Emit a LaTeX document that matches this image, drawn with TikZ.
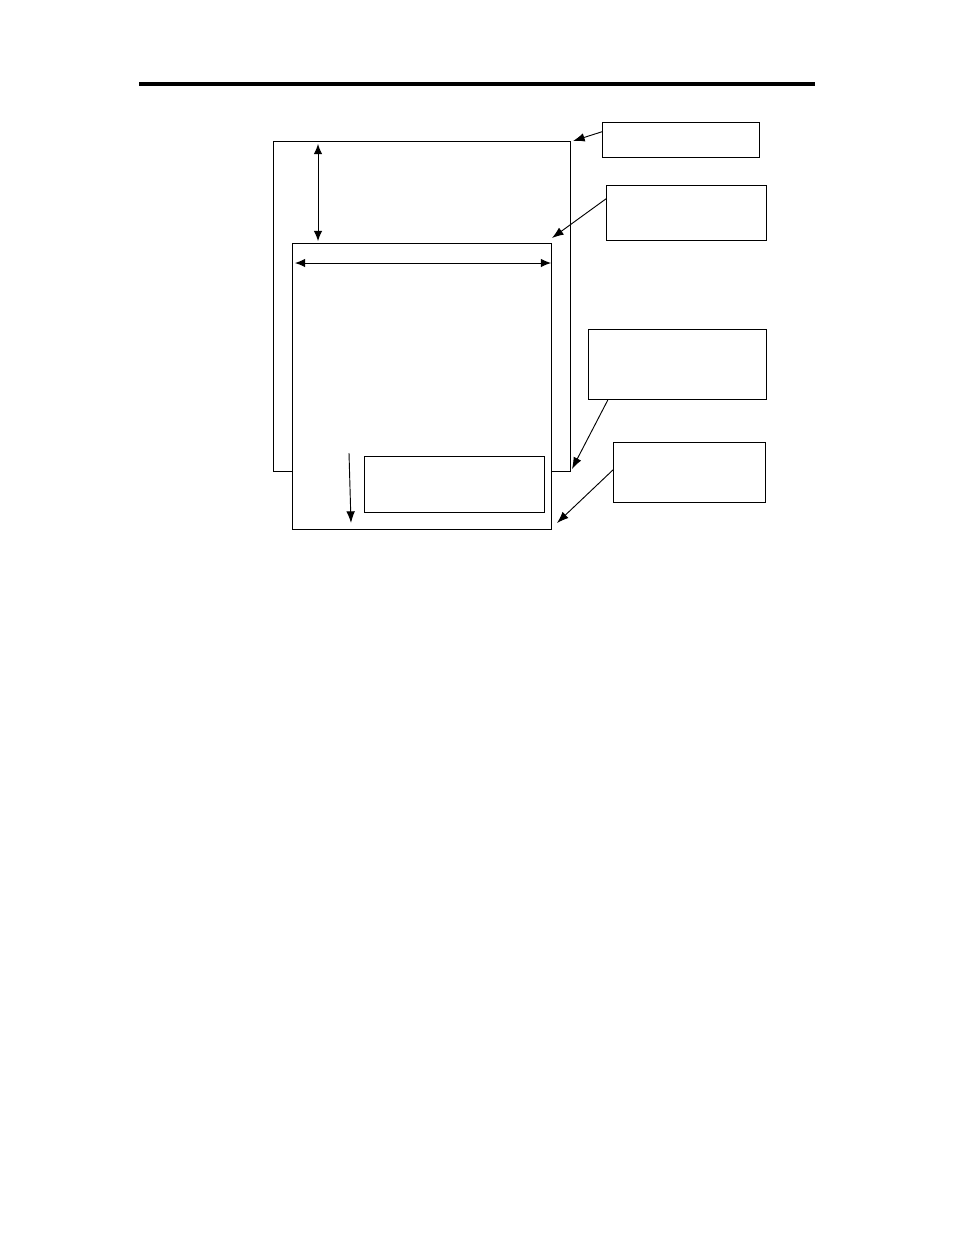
\documentclass[tikz,border=0pt]{standalone}
\usepackage{tikz}
\usetikzlibrary{arrows,arrows.meta,positioning}

\newcommand{\pxl}{0.6437pt}
\tikzset{
  frame/.style={draw, line width=0.7pt, inner sep=0pt, anchor=north west, fill=white},
  pointer/.style={-{Latex[length=7.5pt,width=5.5pt]}, line width=0.6pt},
  measure/.style={{Latex[length=6.5pt,width=5.5pt]}-{Latex[length=6.5pt,width=5.5pt]}, line width=0.6pt},
}

\begin{document}
\begin{tikzpicture}[x=0.6437pt,y=-0.6437pt]
\useasboundingbox (0,0) rectangle (954,1235);

% header rule
\draw[line width=2pt] (139,84) -- (815,84);

% old page, new page on top of it
\node[frame, minimum width={297*\pxl}, minimum height={330*\pxl}] (oldpage) at (273,141) {};
\node[frame, minimum width={259*\pxl}, minimum height={286*\pxl}] (newpage) at (292,243) {};
\node[frame, line width=0.8pt, minimum width={180*\pxl}, minimum height={56*\pxl}] (slug) at (364,456) {};

% measures
\coordinate (gaptop) at (318,144);
\coordinate (gapbot) at (318,241);
\draw[measure] (gaptop) -- (gapbot);
\coordinate (wleft) at (295,263);
\coordinate (wright) at (551,263);
\draw[measure] (wleft) -- (wright);
\coordinate (droptop) at (349,453);
\coordinate (dropbot) at (351,523);
\draw[pointer] (droptop) -- (dropbot);

% label boxes
\node[frame, minimum width={157*\pxl}, minimum height={35*\pxl}] (lblone) at (602,122) {};
\node[frame, minimum width={160*\pxl}, minimum height={55*\pxl}] (lbltwo) at (606,185) {};
\node[frame, minimum width={178*\pxl}, minimum height={70*\pxl}] (lblthree) at (588,329) {};
\node[frame, minimum width={152*\pxl}, minimum height={60*\pxl}] (lblfour) at (613,442) {};

% arrow targets
\coordinate (tone) at (573,141);
\coordinate (ttwo) at (552,238);
\coordinate (tthree) at (572,469);
\coordinate (tfour) at (557,523);

\draw[pointer] (lblone.174) -- (tone);
\draw[pointer] (lbltwo.170) -- (ttwo);
\draw[pointer] (lblthree.207) -- (tthree);
\draw[pointer] (lblfour.178) -- (tfour);
\end{tikzpicture}
\end{document}
